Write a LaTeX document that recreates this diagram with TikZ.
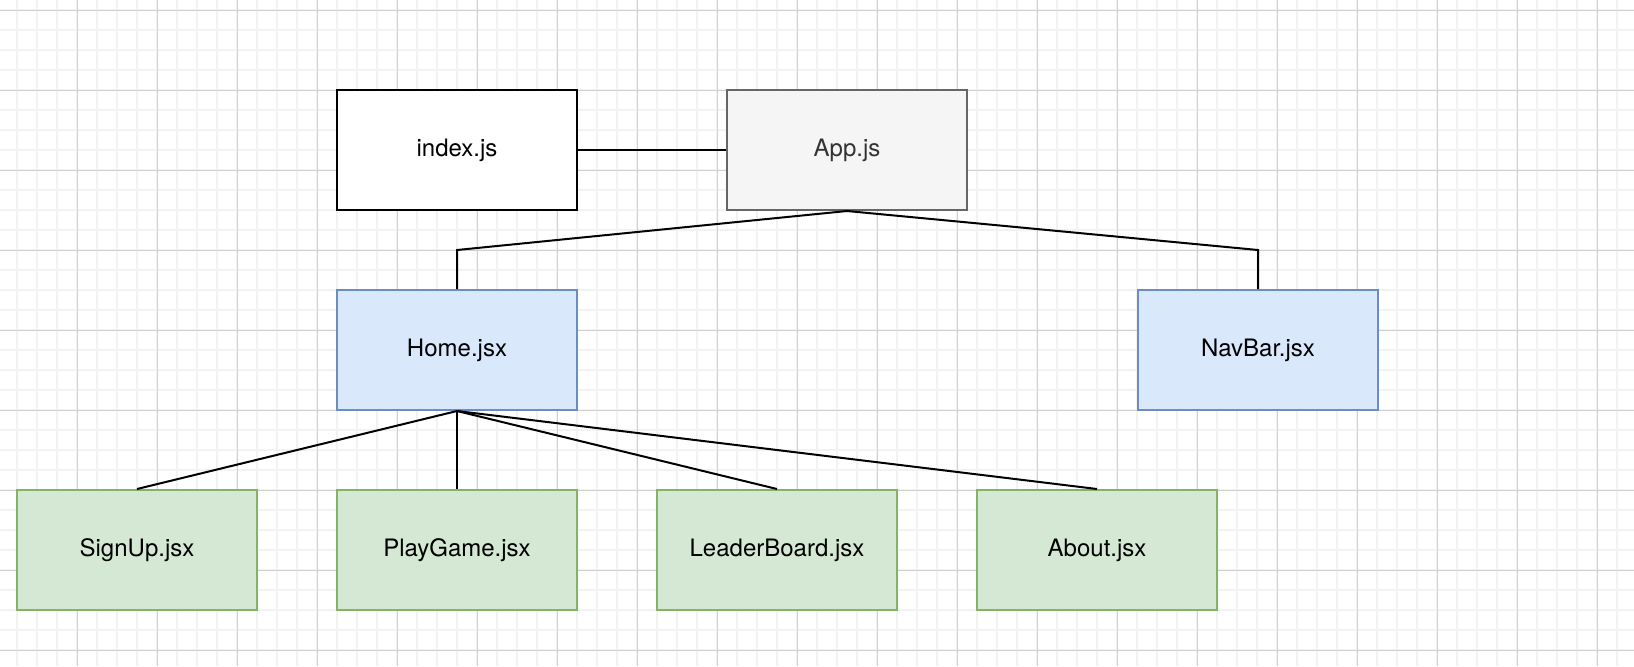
\documentclass[tikz,border=0pt]{standalone}
\usepackage{fontspec}
\setmainfont{TeX Gyre Heros}
\definecolor{minorc}{HTML}{F2F2F2}
\definecolor{majorc}{HTML}{D0D0D0}
\definecolor{bluef}{HTML}{DAE8FC}
\definecolor{blued}{HTML}{6C8EBF}
\definecolor{greenf}{HTML}{D5E8D4}
\definecolor{greend}{HTML}{82B366}
\definecolor{grayf}{HTML}{F5F5F5}
\definecolor{grayd}{HTML}{666666}
\definecolor{grayt}{HTML}{333333}
\tikzset{
  box/.style={draw, line width=1pt, minimum width=120pt, minimum height=60pt, inner sep=0pt,
    font=\fontsize{12}{14}\selectfont},
  plainbox/.style={box, fill=white, draw=black},
  appbox/.style={box, fill=grayf, draw=grayd, text=grayt},
  bluebox/.style={box, fill=bluef, draw=blued},
  greenbox/.style={box, fill=greenf, draw=greend},
  conn/.style={draw=black, line width=1pt},
  minorline/.style={draw=minorc, line width=0.6pt},
  majorline/.style={draw=majorc, line width=0.5pt},
}
\begin{document}
\begin{tikzpicture}[x=0.5pt,y=-0.5pt]
\useasboundingbox (0,0) rectangle (1634,666);
\begin{scope}
\clip (0,0) rectangle (1634,666);
\fill[white] (0,0) rectangle (1634,666);
\foreach \x in {-3,17,...,1637} \draw[minorline] (\x,0) -- (\x,666);
\foreach \y in {10,30,...,670} \draw[minorline] (0,\y) -- (1634,\y);
\foreach \x in {77,157,...,1637} \draw[majorline] (\x,0) -- (\x,666);
\foreach \y in {10,90,...,670} \draw[majorline] (0,\y) -- (1634,\y);
\end{scope}

\node[plainbox] (index) at (457,150) {index.js};
\node[appbox] (app) at (847,150) {App.js};
\node[bluebox] (home) at (457,350) {Home.jsx};
\node[bluebox] (navbar) at (1258,350) {NavBar.jsx};
\node[greenbox] (signup) at (137,550) {SignUp.jsx};
\node[greenbox] (playgame) at (457,550) {PlayGame.jsx};
\node[greenbox] (leader) at (777,550) {LeaderBoard.jsx};
\node[greenbox] (about) at (1097,550) {About.jsx};

\coordinate (bendhome) at (457,250);
\coordinate (bendnav) at (1258,250);

\draw[conn] (index.east) -- (app.west);
\draw[conn] (app.south) -- (bendhome) -- (home.north);
\draw[conn] (app.south) -- (bendnav) -- (navbar.north);
\draw[conn] (home.south) -- (signup.north);
\draw[conn] (home.south) -- (playgame.north);
\draw[conn] (home.south) -- (leader.north);
\draw[conn] (home.south) -- (about.north);
\end{tikzpicture}
\end{document}
